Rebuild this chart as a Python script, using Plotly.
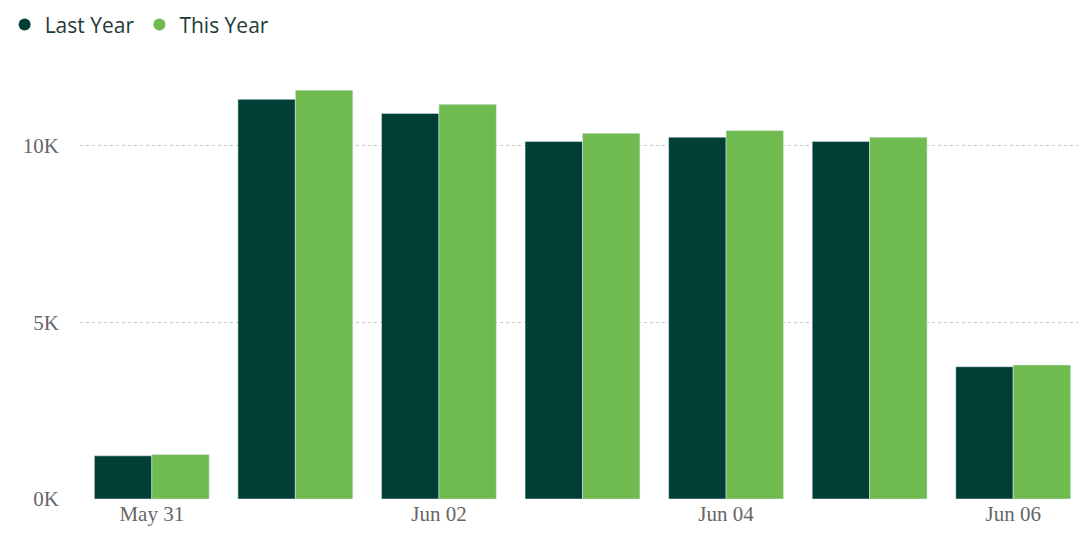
import plotly.graph_objects as go

days = ["2023-05-31", "2023-06-01", "2023-06-02", "2023-06-03", "2023-06-04", "2023-06-05", "2023-06-06"]
last_year = [1220, 11300, 10900, 10110, 10230, 10110, 3740]
this_year = [1260, 11560, 11160, 10340, 10420, 10230, 3790]

dark = "#003f36"
green = "#6fbb50"

fig = go.Figure()
fig.add_trace(go.Bar(x=days, y=last_year, name="Last Year", marker_color=dark, showlegend=False))
fig.add_trace(go.Bar(x=days, y=this_year, name="This Year", marker_color=green, showlegend=False))
# circle legend markers
for name, col in [("Last Year", dark), ("This Year", green)]:
    fig.add_trace(go.Scatter(x=[None], y=[None], mode="markers", name=name,
                             marker=dict(color=col, size=20, symbol="circle")))

fig.update_layout(
    width=1086, height=536,
    margin=dict(l=72, r=9, t=56, b=45, autoexpand=False),
    plot_bgcolor="white", paper_bgcolor="white",
    barmode="group", bargap=0.2, bargroupgap=0,
    legend=dict(orientation="h", x=-0.075, y=1.09, xanchor="left", yanchor="middle",
                font=dict(family="Open Sans", size=21, color="#1f3b35"),
                itemwidth=30, tracegroupgap=0, itemsizing="constant"),
    xaxis=dict(type="date", tickformat="%b %d", dtick=2 * 86400000, tick0="2023-05-31",
               showgrid=False, automargin=False,
               tickfont=dict(family="Liberation Serif", size=21, color="#666666"),
               range=["2023-05-30 12:00", "2023-06-06 12:00"]),
    yaxis=dict(range=[0, 12300], tickvals=[0, 5000, 10000], ticktext=["0K", "5K", "10K"],
               showgrid=True, gridcolor="#c8c8c8", griddash="dot", gridwidth=1,
               zeroline=False, ticks="", ticklen=0, automargin=False, ticklabelstandoff=20,
               tickfont=dict(family="Liberation Serif", size=21, color="#666666")),
)
fig.write_html("out.html")
